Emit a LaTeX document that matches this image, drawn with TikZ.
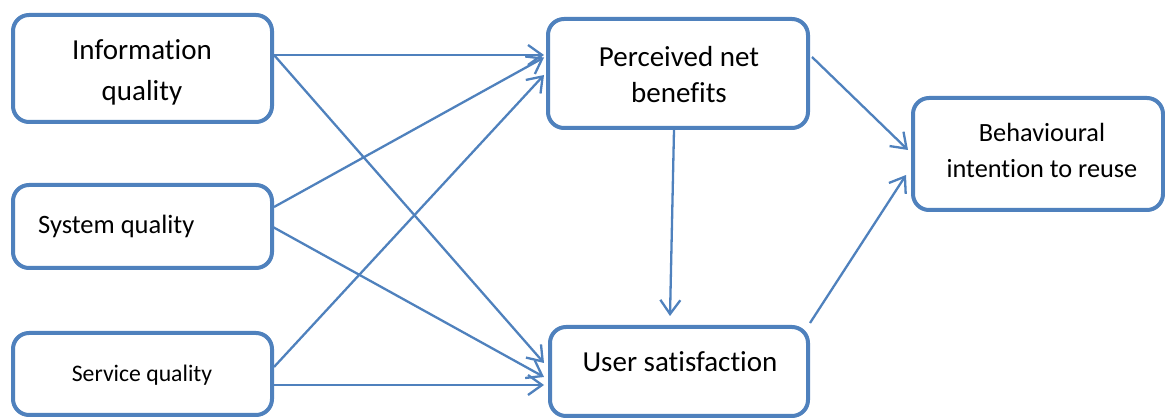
\documentclass[tikz,border=0pt]{standalone}
\usepackage{fontspec}
\setmainfont{Carlito}[Ligatures=NoCommon]
\usetikzlibrary{arrows.meta}
\definecolor{bl}{HTML}{4F81BD}
\begin{document}
\begin{tikzpicture}[x=1pt,y=-1pt,
  box/.style={draw=bl, line width=4pt, rounded corners=16pt, fill=white, inner sep=0pt},
  conn/.style={draw=bl, line width=2.3pt, -{Straight Barb[length=14pt,width=20pt]}},
  lbl/.style={inner sep=0pt, align=center, text=black}]
\useasboundingbox (0,0) rectangle (1165,419);
% boxes
\node[box, minimum width=259pt, minimum height=107pt] (iq) at (142.5,68.5) {};
\node[box, minimum width=259pt, minimum height=83pt] (sq) at (142.5,226.5) {};
\node[box, minimum width=259pt, minimum height=82pt] (svq) at (142.5,374) {};
\node[box, minimum width=260pt, minimum height=109pt] (pnb) at (678,73.5) {};
\node[box, minimum width=258pt, minimum height=89pt] (us) at (679,371.5) {};
\node[box, minimum width=250pt, minimum height=112pt] (beh) at (1038,154) {};
% labels
\node[lbl, font=\fontsize{29}{41}\selectfont] (iqt) at (142,72) {Information\\quality};
\node[lbl, font=\fontsize{26.5}{32}\selectfont, anchor=base west] (sqt) at (38,234) {System quality};
\node[lbl, font=\fontsize{23.7}{29}\selectfont, anchor=base] (svqt) at (142,382) {Service quality};
\node[lbl, font=\fontsize{29}{36}\selectfont] (pnbt) at (679,75) {Perceived net\\benefits};
\node[lbl, font=\fontsize{29}{35}\selectfont, anchor=base] (ust) at (680,372) {User satisfaction};
\node[lbl, font=\fontsize{26.3}{36}\selectfont] (beht) at (1042,150) {Behavioural\\intention to reuse};
% connectors
\draw[conn] ([yshift=13.5pt]iq.east) -- ([xshift=-2pt,yshift=18.5pt]pnb.west);
\draw[conn] ([yshift=13.5pt]iq.east) -- ([xshift=-4pt,yshift=8.5pt]us.west);
\draw[conn] ([yshift=19.5pt]sq.east) -- ([xshift=-2pt,yshift=16pt]pnb.west);
\draw[conn] ([xshift=-2pt]sq.east) -- ([xshift=-4pt,yshift=-5.5pt]us.west);
\draw[conn] ([yshift=7pt]svq.east) -- ([xshift=-2pt,yshift=-1.5pt]pnb.west);
\draw[conn] ([yshift=-11pt]svq.east) -- ([xshift=-4pt,yshift=-13.5pt]us.west);
\draw[conn] ([xshift=-4pt]pnb.south) -- ([xshift=-9pt,yshift=9pt]us.north);
\draw[conn] ([xshift=2pt,yshift=16.5pt]pnb.east) -- ([xshift=-3pt,yshift=4pt]beh.west);
\draw[conn] ([yshift=2pt]us.north east) -- ([xshift=-5pt,yshift=-21pt]beh.west);
\end{tikzpicture}
\end{document}
